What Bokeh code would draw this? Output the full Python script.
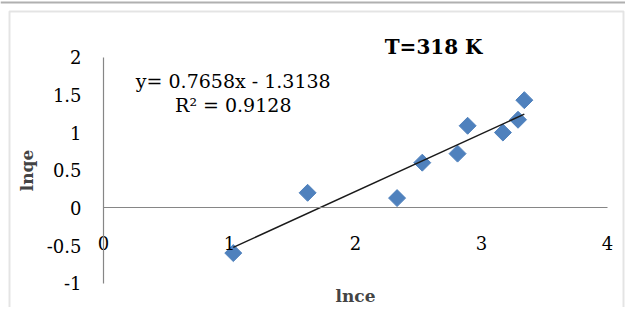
import numpy as np
from bokeh.plotting import figure
from bokeh.models import Range1d, LinearAxis, FixedTicker, Label, BoxAnnotation, Span
from bokeh.embed import file_html
from bokeh.resources import INLINE

# ---- data ----
lnce = [1.03, 1.62, 2.33, 2.53, 2.81, 2.89, 3.17, 3.29, 3.34]
lnqe = [-0.60, 0.20, 0.13, 0.60, 0.72, 1.09, 1.00, 1.17, 1.43]
slope = 0.7658
intercept = -1.3138
r_squared = 0.9128
x_ticks = [0, 1, 2, 3, 4]
y_ticks = [-1, -0.5, 0, 0.5, 1, 1.5, 2]
y_tick_labels = ["-1", "-0.5", "0", "0.5", "1", "1.5", "2"]
title_text = "T=318 K"
x_title = "lnce"
y_title = "lnqe"

SERIF = "DejaVu Serif"
AXIS_GRAY = "#868686"
W, H = 625, 307

# The plot frame covers the whole canvas; the axes are drawn inside it,
# limited to their bounds, as in the Excel original.
p = figure(width=W, height=H, output_backend="svg", toolbar_location=None,
           x_range=Range1d(-0.8175, 4.143), y_range=Range1d(-1.3226, 2.753),
           x_axis_location=None, y_axis_location=None,
           min_border_left=0, min_border_right=0, min_border_top=0, min_border_bottom=0)
p.background_fill_color = "white"
p.border_fill_color = "white"
p.outline_line_color = None
p.xgrid.visible = False
p.ygrid.visible = False

# y axis at x = 0
yax = LinearAxis(ticker=FixedTicker(ticks=y_ticks), fixed_location=0,
                 bounds=(min(y_ticks), max(y_ticks)),
                 major_label_overrides={t: s for t, s in zip(y_ticks, y_tick_labels)})
yax.axis_line_color = AXIS_GRAY
yax.axis_line_width = 1.2
yax.major_tick_out = 0
yax.major_tick_in = 0
yax.minor_tick_out = 0
yax.minor_tick_in = 0
yax.major_label_standoff = 22
yax.major_label_text_font = SERIF
yax.major_label_text_font_size = "18px"
yax.major_label_text_color = "black"
yax.axis_label = y_title
yax.axis_label_text_font = SERIF
yax.axis_label_text_font_style = "bold"
yax.axis_label_text_font_size = "17px"
yax.axis_label_standoff = 7
p.add_layout(yax, "left")

# x axis line at y = 0, labels low
xax = LinearAxis(ticker=FixedTicker(ticks=x_ticks), fixed_location=0,
                 bounds=(min(x_ticks), max(x_ticks)),
                 major_label_overrides={t: str(t) for t in x_ticks})
xax.axis_line_color = AXIS_GRAY
xax.axis_line_width = 1.2
xax.major_tick_out = 0
xax.major_tick_in = 0
xax.minor_tick_out = 0
xax.minor_tick_in = 0
xax.major_label_standoff = 28
xax.major_label_text_font = SERIF
xax.major_label_text_font_size = "18px"
xax.major_label_text_color = "black"
xax.axis_label = x_title
xax.axis_label_text_font = SERIF
xax.axis_label_text_font_style = "bold"
xax.axis_label_text_font_size = "17px"
xax.axis_label_standoff = 33
p.add_layout(xax, "below")

# data points (Excel-style diamonds)
p.scatter(lnce, lnqe, marker="square", angle=np.pi / 4, size=12,
          fill_color="#4F81BD", line_color="#4F81BD")

# linear trendline
tx = np.array([min(lnce), max(lnce)])
p.line(tx, slope * tx + intercept, line_color="#1a1a1a", line_width=1.5)

# equation and R^2
p.add_layout(Label(x=1.03, y=1.68, text=f"y= {slope}x - {abs(intercept)}",
                   text_align="center", text_baseline="middle",
                   text_font=SERIF, text_font_size="19px", text_color="black"))
p.add_layout(Label(x=1.03, y=1.36, text=f"R² = {r_squared}",
                   text_align="center", text_baseline="middle",
                   text_font=SERIF, text_font_size="19px", text_color="black"))

# chart title
p.add_layout(Label(x=2.62, y=2.13, text=title_text,
                   text_align="center", text_baseline="middle",
                   text_font=SERIF, text_font_style="bold", text_font_size="20px",
                   text_color="black"))

# chart area border and the outer frame line at the very top (canvas units: from top-left)
p.add_layout(BoxAnnotation(left=9, right=W - 2, top=11, bottom=H + 20,
                           left_units="canvas", right_units="canvas",
                           top_units="canvas", bottom_units="canvas",
                           fill_alpha=0, line_color="#a6a6a6", line_width=2))
p.add_layout(Span(location=2, location_units="canvas", dimension="width",
                  line_color="#b0b0b0", line_width=2))

open("out.html", "w").write(file_html(p, INLINE))
